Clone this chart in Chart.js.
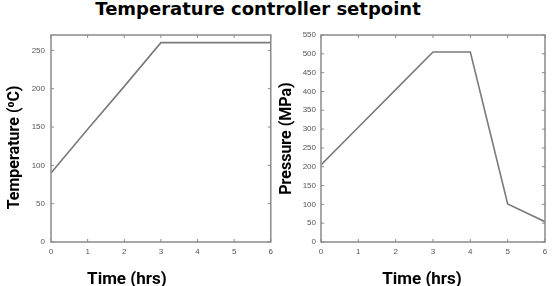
<!DOCTYPE html>
<html>
<head>
<meta charset="utf-8">
<script src="https://cdn.jsdelivr.net/npm/chart.js@4/dist/chart.umd.min.js"></script>
<style>
  html, body { margin: 0; padding: 0; background: #fff; }
  body { width: 555px; height: 286px; position: relative; overflow: hidden; }
  #title { position: absolute; left: 0; top: -3px; width: 516px; text-align: center;
    font: bold 18px "DejaVu Sans", sans-serif; line-height: 24px; color: #000; white-space: nowrap; }
  #c1 { position: absolute; left: 0; top: 0; }
  #c2 { position: absolute; left: 278px; top: 0; }
</style>
</head>
<body>
<div id="title">Temperature controller setpoint</div>
<canvas id="c1" width="278" height="286"></canvas>
<canvas id="c2" width="277" height="286"></canvas>
<script>
const hours = [0, 1, 2, 3, 4, 5, 6];
const temperature = [90, 147, 203, 260, 260, 260, 260];
const pressure = [205, 305, 405, 505, 505, 101, 54];
const xTicks = [0, 1, 2, 3, 4, 5, 6];
const tempTicks = [0, 50, 100, 150, 200, 250];
const pressTicks = [0, 50, 100, 150, 200, 250, 300, 350, 400, 450, 500, 550];

const frameColor = '#8a8a8a';
const lineColor = '#7a7a7a';
const titleFontX = 'bold 17px Roboto, sans-serif';
const titleFontY = 'bold 16px Roboto, sans-serif';

const framePlugin = {
  id: 'frame',
  afterDatasetsDraw(chart) {
    const {ctx, chartArea: a, scales} = chart;
    ctx.save();
    ctx.strokeStyle = frameColor;
    ctx.lineWidth = 1.5;
    ctx.strokeRect(a.left, a.top, a.right - a.left, a.bottom - a.top);
    ctx.lineWidth = 1;
    ctx.beginPath();
    scales.x.ticks.forEach(t => {
      const px = scales.x.getPixelForValue(t.value);
      ctx.moveTo(px, a.bottom); ctx.lineTo(px, a.bottom - 3);
      ctx.moveTo(px, a.top); ctx.lineTo(px, a.top + 3);
    });
    scales.y.ticks.forEach(t => {
      const py = scales.y.getPixelForValue(t.value);
      ctx.moveTo(a.left, py); ctx.lineTo(a.left + 3, py);
      ctx.moveTo(a.right, py); ctx.lineTo(a.right - 3, py);
    });
    ctx.stroke();
    ctx.restore();
  }
};

// Axis titles, placed relative to the chart area
const axisTitlePlugin = {
  id: 'axisTitles',
  afterDraw(chart, args, o) {
    const {ctx, chartArea: a} = chart;
    ctx.save();
    ctx.fillStyle = '#000';
    ctx.textAlign = 'center';
    // x title
    ctx.font = titleFontX;
    ctx.textBaseline = 'alphabetic';
    ctx.fillText(o.xText, (a.left + a.right) / 2 + o.xShift, a.bottom + o.xBaseline);
    // y title
    ctx.font = titleFontY;
    ctx.textBaseline = 'middle';
    ctx.translate(o.yX, (a.top + a.bottom) / 2 + o.yShift);
    ctx.rotate(-Math.PI / 2);
    ctx.fillText(o.yText, 0, 0);
    ctx.restore();
  }
};

function makeChart(id, values, yMax, yTickVals, opts) {
  const data = hours.map((h, i) => ({x: h, y: values[i]}));
  return new Chart(document.getElementById(id), {
    type: 'line',
    data: { datasets: [{ data, borderColor: lineColor, borderWidth: 1.6, pointRadius: 0, tension: 0, fill: false }] },
    options: {
      responsive: false,
      animation: false,
      events: [],
      plugins: {
        legend: { display: false }, tooltip: { enabled: false }, title: { display: false },
        axisTitles: opts.titles
      },
      layout: { padding: { left: 0, right: opts.padRight, top: 35, bottom: 0 } },
      scales: {
        x: {
          type: 'linear', min: 0, max: 6,
          afterBuildTicks: s => { s.ticks = xTicks.map(v => ({value: v})); },
          afterFit: s => { s.height = 44; },
          grid: { display: false, drawTicks: false },
          border: { display: false },
          ticks: { padding: 5, font: { family: 'Arial, sans-serif', size: 8 }, color: '#555', maxRotation: 0 },
          title: { display: false }
        },
        y: {
          type: 'linear', min: 0, max: yMax,
          afterBuildTicks: s => { s.ticks = yTickVals.map(v => ({value: v})); },
          afterFit: s => { s.width = opts.yWidth; },
          grid: { display: false, drawTicks: false },
          border: { display: false },
          ticks: { padding: opts.tickPad, font: { family: 'Arial, sans-serif', size: 8 }, color: '#555' },
          title: { display: false }
        }
      }
    },
    plugins: [framePlugin, axisTitlePlugin]
  });
}

makeChart('c1', temperature, 270, tempTicks, {
  padRight: 4, yWidth: 51, tickPad: 6,
  titles: { xText: 'Time (hrs)', xShift: -34, xBaseline: 42, yText: 'Temperature (⁰C)', yX: 15, yShift: 9 }
});
makeChart('c2', pressure, 550, pressTicks, {
  padRight: 10, yWidth: 43, tickPad: 5,
  titles: { xText: 'Time (hrs)', xShift: -11, xBaseline: 42, yText: 'Pressure (MPa)', yX: 9, yShift: 0 }
});
</script>
</body>
</html>
